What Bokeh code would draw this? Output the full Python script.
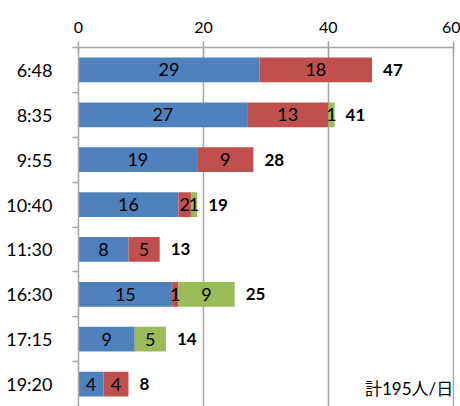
from bokeh.plotting import figure
from bokeh.models import ColumnDataSource, Range1d, FixedTicker, Label
from bokeh.embed import file_html
from bokeh.resources import INLINE
from bokeh.core.properties import value

# ---- data ----
times = ["6:48", "8:35", "9:55", "10:40", "11:30", "16:30", "17:15", "19:20"]
blue_vals = [29, 27, 19, 16, 8, 15, 9, 4]
red_vals = [18, 13, 9, 2, 5, 1, 0, 4]
green_vals = [0, 1, 0, 1, 0, 9, 5, 0]
x_ticks = [0, 20, 40, 60]
note_text = "計195人/日"

colors = ["#4F81BD", "#C0504D", "#9BBB59"]
FONT = "Lato, 'Noto Sans CJK JP'"
GRAY = "#a6a6a6"

n = len(times)
ypos = list(range(n))
totals = [b + r + g for b, r, g in zip(blue_vals, red_vals, green_vals)]

source = ColumnDataSource(dict(y=ypos, blue=blue_vals, red=red_vals, green=green_vals))

p = figure(width=460, height=406, output_backend="svg", toolbar_location=None,
           x_range=Range1d(0, 60.2), y_range=Range1d(n - 0.5, -0.5),
           x_axis_location="above",
           min_border_left=78, min_border_right=6, min_border_top=47, min_border_bottom=0)
p.outline_line_color = None
p.background_fill_color = "white"
p.border_fill_color = "white"

p.hbar_stack(["blue", "red", "green"], y="y", height=0.55, color=colors,
             line_color=None, source=source)

# segment labels
lx, ly, lt = [], [], []
for i in range(n):
    left = 0
    for v in (blue_vals[i], red_vals[i], green_vals[i]):
        if v > 0:
            lx.append(left + v / 2)
            ly.append(ypos[i])
            lt.append(str(v))
        left += v
p.text(x=lx, y=ly, text=lt, text_align="center", text_baseline="middle",
       text_font=value(FONT), text_font_size="18px", text_color="black")

# totals
p.text(x=totals, y=ypos, text=[str(t) for t in totals], x_offset=11,
       text_align="left", text_baseline="middle", text_font=value(FONT),
       text_font_size="17px", text_font_style="bold", text_color="black")

# x axis (top)
xa = p.xaxis[0]
xa.ticker = FixedTicker(ticks=x_ticks)
xa.axis_line_color = GRAY
xa.axis_line_width = 1.5
xa.major_tick_line_color = GRAY
xa.major_tick_line_width = 1.5
xa.major_tick_in = 6
xa.major_tick_out = 6
xa.minor_tick_line_color = None
xa.major_label_standoff = 9
xa.major_label_text_font = FONT
xa.major_label_text_font_size = "16px"
xa.major_label_text_color = "black"

# y axis (left)
ya = p.yaxis[0]
ya.ticker = FixedTicker(ticks=ypos, minor_ticks=[i - 0.5 for i in range(n + 1)])
ya.major_label_overrides = {i: t for i, t in zip(ypos, times)}
ya.axis_line_color = GRAY
ya.axis_line_width = 1.5
ya.major_tick_line_color = None
ya.major_tick_in = 0
ya.major_tick_out = 0
ya.minor_tick_line_color = GRAY
ya.minor_tick_line_width = 1.5
ya.minor_tick_in = 0
ya.minor_tick_out = 6
ya.major_label_standoff = 20
ya.major_label_text_font = FONT
ya.major_label_text_font_size = "18px"
ya.major_label_text_color = "black"

p.xgrid.ticker = FixedTicker(ticks=x_ticks)
p.xgrid.grid_line_color = GRAY
p.xgrid.grid_line_width = 1.5
p.ygrid.grid_line_color = None

p.add_layout(Label(x=60, y=ypos[-1], x_offset=0, y_offset=-4, text=note_text,
                   text_align="right", text_baseline="middle",
                   text_font=FONT, text_font_size="17px", text_color="black"))

open("out.html", "w").write(file_html(p, INLINE))
